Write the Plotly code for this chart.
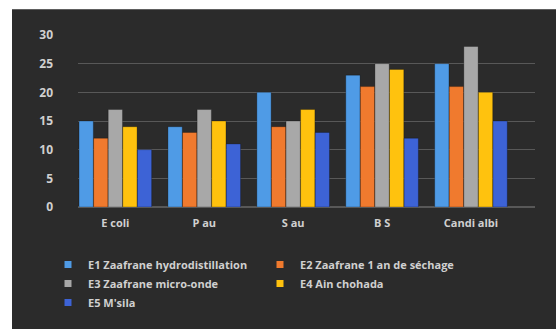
import plotly.graph_objects as go

categories = ["E coli", "P au", "S au", "B S", "Candi albi"]
series_names = [
    "E1 Zaafrane hydrodistillation",
    "E2 Zaafrane 1 an de séchage",
    "E3 Zaafrane micro-onde",
    "E4 Ain chohada",
    "E5 M'sila",
]
e1 = [15, 14, 20, 23, 25]
e2 = [12, 13, 14, 21, 21]
e3 = [17, 17, 15, 25, 28]
e4 = [14, 15, 17, 24, 20]
e5 = [10, 11, 13, 12, 15]
y_ticks = [0, 5, 10, 15, 20, 25, 30]

colors = ["#4f9be6", "#f07a2e", "#a8a8a8", "#ffc20e", "#3d63d6"]

fig = go.Figure()
for name, vals, col in zip(series_names, [e1, e2, e3, e4, e5], colors):
    fig.add_trace(go.Bar(
        x=categories, y=vals, name=name, legendgroup=name, showlegend=False,
        marker=dict(color=col, line=dict(color="rgba(0,0,0,0.25)", width=1)),
    ))
# small square legend keys
for name, col in zip(series_names, colors):
    fig.add_trace(go.Scatter(
        x=[None], y=[None], name=name, legendgroup=name, mode="markers",
        marker=dict(symbol="square", size=7, color=col),
    ))

W, H = 556, 329
left, right, top, bottom = 78, 21, 35, 120
pw, ph = W - left - right, H - top - bottom

# dark panel behind the chart
fig.add_shape(
    type="rect", xref="paper", yref="paper", layer="below",
    x0=(12 - left) / pw, x1=(W + 5 - left) / pw,
    y0=-(bottom + 5) / ph, y1=(H - bottom - 9) / ph,
    fillcolor="#2b2b2b", line=dict(width=0),
)

label_font = dict(size=11, color="#d0d0d0", family="Open Sans", weight="bold")

fig.update_layout(
    width=W, height=H,
    margin=dict(l=left, r=right, t=top, b=bottom),
    paper_bgcolor="white",
    plot_bgcolor="rgba(0,0,0,0)",
    barmode="group",
    bargap=0.18,
    bargroupgap=0.02,
    font=dict(family="Open Sans", color="#d0d0d0"),
    xaxis=dict(
        type="category", range=[-0.42, 4.72], showgrid=False, zeroline=False,
        showline=False, tickfont=label_font, ticks="", ticklabelstandoff=8,
    ),
    yaxis=dict(
        range=[0, 30], tickvals=y_ticks, showgrid=True,
        gridcolor="#585858", gridwidth=1, zeroline=True, zerolinecolor="#585858",
        tickfont=dict(size=12, color="#d0d0d0", family="Open Sans", weight="bold"),
        ticks="", ticklabelstandoff=24,
    ),
    legend=dict(
        orientation="h", x=(48 - left) / pw, xanchor="left", y=-0.25, yanchor="top",
        entrywidth=167, entrywidthmode="pixels",
        font=dict(size=11, color="#d0d0d0", family="Open Sans", weight="bold"),
        itemwidth=30, tracegroupgap=0,
        bgcolor="rgba(0,0,0,0)",
    ),
)

fig.write_html("out.html")
